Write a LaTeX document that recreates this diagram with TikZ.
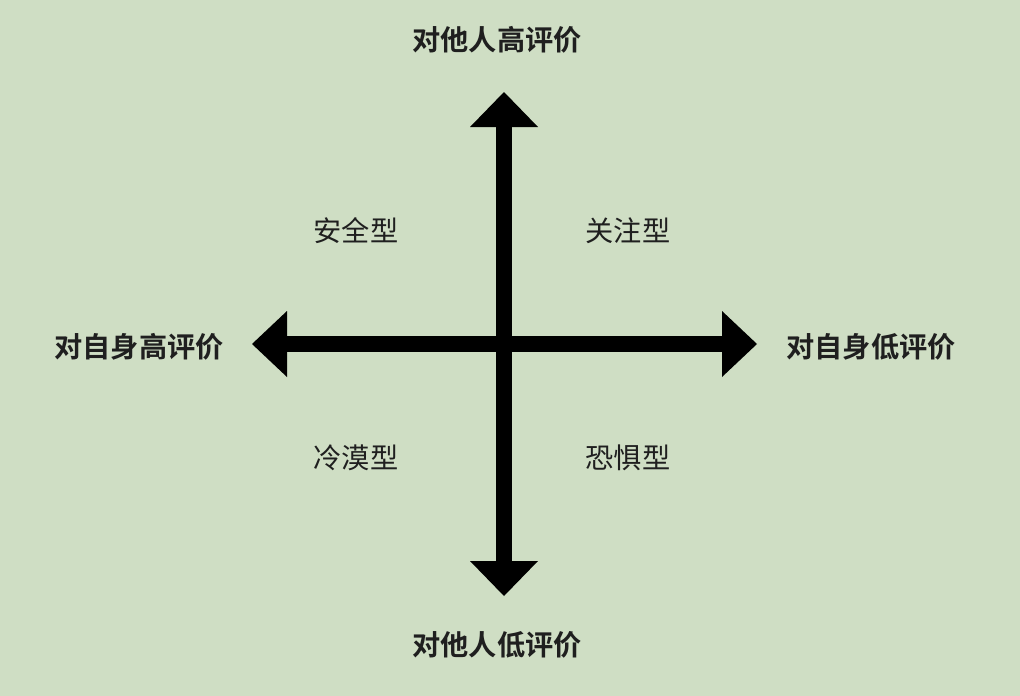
\documentclass[tikz,border=0pt]{standalone}
\usepackage{fontspec}
\newfontfamily\cjk{Noto Sans CJK SC}
\newfontfamily\cjkbold{Noto Sans CJK SC Bold}
\definecolor{bg}{HTML}{CFDEC4}
\begin{document}
\begin{tikzpicture}[x=1pt,y=-1pt,
  axislabel/.style={font=\cjkbold\fontsize{28.2}{31}\selectfont,inner sep=0pt,text=black!88},
  quadlabel/.style={font=\cjk\fontsize{28.2}{31}\selectfont,inner sep=0pt,text=black!88},
  shaft/.style={fill=black}]
\fill[bg] (0,0) rectangle (1020,696);
\useasboundingbox (0,0) rectangle (1020,696);
% vertical axis
\fill[shaft] (496,127) rectangle (512,561);
\fill[shaft] (504,92) -- (538,127) -- (470,127) -- cycle;
\fill[shaft] (504,596) -- (538,561) -- (470,561) -- cycle;
% horizontal axis
\fill[shaft] (287,336) rectangle (722,352);
\fill[shaft] (252,344) -- (287,311) -- (287,377) -- cycle;
\fill[shaft] (757,344) -- (722,311) -- (722,377) -- cycle;
% labels
\node[axislabel] (top) at (497,40) {对他人高评价};
\node[axislabel] (bottom) at (497,645) {对他人低评价};
\node[axislabel] (left) at (139,347) {对自身高评价};
\node[axislabel] (right) at (871,347) {对自身低评价};
\node[quadlabel] (q1) at (356,231) {安全型};
\node[quadlabel] (q2) at (628,231) {关注型};
\node[quadlabel] (q3) at (356,458) {冷漠型};
\node[quadlabel] (q4) at (628,458) {恐惧型};
\end{tikzpicture}
\end{document}
